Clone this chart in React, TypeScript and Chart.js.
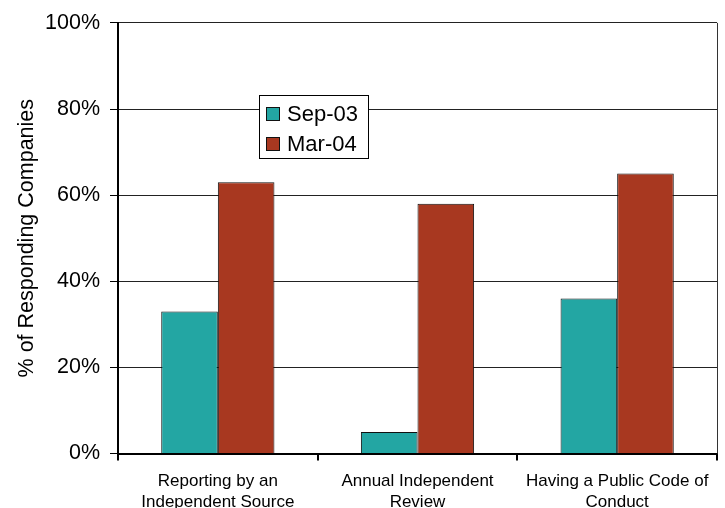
import React, { useEffect, useRef } from "react";
import { Chart, registerables } from "chart.js";

Chart.register(...registerables);

const categories: string[][] = [
  ["Reporting by an", "Independent Source"],
  ["Annual Independent", "Review"],
  ["Having a Public Code of", "Conduct"],
];
const seriesNames = ["Sep-03", "Mar-04"];
const sep03 = [33, 5, 36];
const mar04 = [63, 58, 65];
const yTicks = [0, 20, 40, 60, 80, 100];
const yTitle = "% of Responding Companies";

const FONT = '"Liberation Sans", Arial, Helvetica, sans-serif';

const boxLegend = {
  id: "boxLegend",
  afterDatasetsDraw(chart: any) {
    const ctx = chart.ctx;
    const x0 = 259, y0 = 95, w = 110, h = 64;
    ctx.save();
    ctx.fillStyle = "#ffffff";
    ctx.fillRect(x0, y0, w, h);
    ctx.strokeStyle = "#000000";
    ctx.lineWidth = 1;
    ctx.strokeRect(x0 + 0.5, y0 + 0.5, w - 1, h - 1);
    ctx.font = `22px ${FONT}`;
    ctx.textBaseline = "middle";
    ctx.textAlign = "left";
    chart.data.datasets.forEach((ds: any, i: number) => {
      const cy = y0 + 19 + i * 30;
      ctx.fillStyle = ds.backgroundColor;
      ctx.fillRect(266, cy - 7, 14, 14);
      ctx.strokeStyle = "#111";
      ctx.strokeRect(266.5, cy - 6.5, 13, 13);
      ctx.fillStyle = "#000";
      ctx.fillText(ds.label, 287, cy + 1);
    });
    ctx.restore();
  },
  afterDraw(chart: any) {
    const { ctx, chartArea } = chart;
    ctx.save();
    ctx.strokeStyle = "#333";
    ctx.lineWidth = 1;
    ctx.beginPath();
    ctx.moveTo(chartArea.right + 0.5, chartArea.top);
    ctx.lineTo(chartArea.right + 0.5, chartArea.bottom);
    ctx.stroke();
    ctx.restore();
  },
};

export default function App() {
  const ref = useRef<HTMLCanvasElement | null>(null);
  useEffect(() => {
    if (!ref.current) return;
    const chart = new Chart(ref.current, {
      type: "bar",
      data: {
        labels: categories,
        datasets: [
          {
            label: seriesNames[0],
            data: sep03,
            backgroundColor: "#23A6A3",
            borderColor: "#111",
            borderWidth: 1,
            categoryPercentage: 0.567,
            barPercentage: 1,
          },
          {
            label: seriesNames[1],
            data: mar04,
            backgroundColor: "#A83820",
            borderColor: "#111",
            borderWidth: 1,
            categoryPercentage: 0.567,
            barPercentage: 1,
          },
        ],
      },
      options: {
        responsive: false,
        animation: false,
        layout: { padding: { top: 20, right: 8, left: 0, bottom: 0 } },
        plugins: {
          legend: { display: false },
          tooltip: { enabled: false },
        },
        scales: {
          x: {
            grid: {
              drawOnChartArea: false,
              drawTicks: true,
              tickLength: 7,
              color: "#000",
              lineWidth: 2,
            },
            border: { display: true, color: "#000", width: 2 },
            ticks: {
              color: "#000",
              font: { family: FONT, size: 17 },
              padding: 11,
              maxRotation: 0,
              autoSkip: false,
            },
            afterFit: (s: any) => {
              s.height = 54.5;
            },
          },
          y: {
            min: 0,
            max: 100,
            afterBuildTicks: (s: any) => {
              s.ticks = yTicks.map((v) => ({ value: v }));
            },
            ticks: {
              color: "#000",
              font: { family: FONT, size: 21.5 },
              padding: 10,
              callback: (v: any) => `${v}%`,
            },
            grid: {
              color: "#222",
              lineWidth: 1,
              drawTicks: true,
              tickLength: 8,
              tickColor: "#000",
            },
            border: { display: true, color: "#000", width: 2 },
            title: {
              display: true,
              text: yTitle,
              color: "#000",
              font: { family: FONT, size: 21.5 },
              padding: { top: 14, bottom: 0 },
            },
            afterFit: (s: any) => {
              s.width = 118;
            },
          },
        },
      },
      plugins: [boxLegend],
    });
    return () => chart.destroy();
  }, []);
  return (
    <canvas
      ref={ref}
      width={725}
      height={508}
      style={{ position: "absolute", left: 0, top: 0, display: "block", background: "#fff" }}
    />
  );
}
